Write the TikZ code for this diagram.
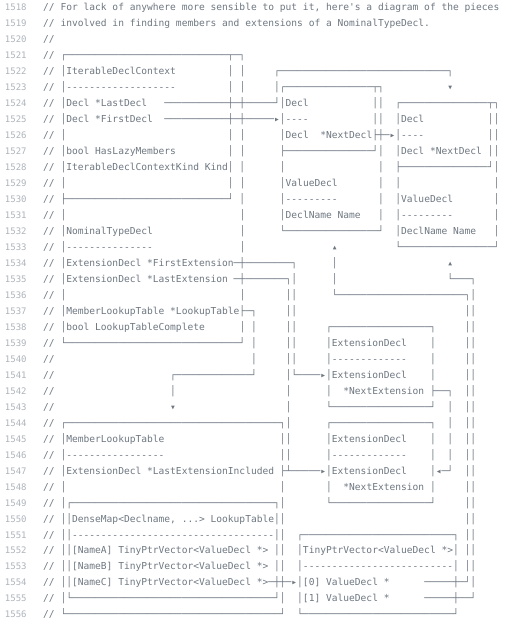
\documentclass[tikz,border=0pt]{standalone}
\usepackage{fontspec}
\usepackage{tikz}
\usetikzlibrary{positioning}
\newfontfamily\codefont{DejaVu Sans Mono}[Ligatures=TeXOff]
\definecolor{codegray}{HTML}{6E7781}
\definecolor{linegray}{HTML}{AEB4BB}
\newcommand\gap[1]{\hspace*{#1\fontcharwd\font`0}}
\newcommand\rep[2]{\foreach\k in {1,...,#1}{#2}}

\begin{document}
\begin{tikzpicture}
        [
            x=5.775pt, y=-15.97pt,
            src/.style={anchor=base west, inner sep=0pt, text=codegray,
                        font=\codefont\fontsize{9.59pt}{16pt}\selectfont},
            lno/.style={anchor=base east, inner sep=0pt, text=linegray,
                        font=\codefont\fontsize{9pt}{16pt}\selectfont}
        ]
        \useasboundingbox (-43pt,11pt) rectangle (478pt,-615pt);
        \foreach \n/\code in {
            1518/{// For lack of anywhere more sensible to put it, here's a diagram of the pieces},
            1519/{// involved in finding members and extensions of a NominalTypeDecl.},
            1520/{//},
            1521/{// ┌\rep{28}{─}┬─┐},
            1522/{// │IterableDeclContext\gap{9}│ │\gap{5}┌\rep{29}{─}┐},
            1523/{// │\rep{19}{-}\gap{9}│ │\gap{5}│┌\rep{15}{─}┬┐\gap{11}▾},
            1524/{// │Decl *LastDecl\gap{3}\rep{11}{─}┼─┼\rep{5}{─}┘│Decl\gap{11}││\gap{2}┌\rep{15}{─}┬┐},
            1525/{// │Decl *FirstDecl\gap{2}\rep{11}{─}┼─┼\rep{5}{─}▸│----\gap{11}││\gap{2}│Decl\gap{11}││},
            1526/{// │\gap{28}│ │\gap{6}│Decl\gap{2}*NextDecl├┼─▸│----\gap{11}││},
            1527/{// │bool HasLazyMembers\gap{9}│ │\gap{6}├\rep{15}{─}┘│\gap{2}│Decl *NextDecl ││},
            1528/{// │IterableDeclContextKind Kind│ │\gap{6}│\gap{16}│\gap{2}├\rep{15}{─}┘│},
            1529/{// │\gap{28}│ │\gap{6}│ValueDecl\gap{7}│\gap{2}│\gap{16}│},
            1530/{// ├\rep{28}{─}┘ │\gap{6}│\rep{9}{-}\gap{7}│\gap{2}│ValueDecl\gap{7}│},
            1531/{// │\gap{30}│\gap{6}│DeclName Name\gap{3}│\gap{2}│\rep{9}{-}\gap{7}│},
            1532/{// │NominalTypeDecl\gap{15}│\gap{6}└\rep{16}{─}┘\gap{2}│DeclName Name\gap{3}│},
            1533/{// │\rep{15}{-}\gap{15}│\gap{15}▴\gap{10}└\rep{16}{─}┘},
            1534/{// │ExtensionDecl *FirstExtension─┼\rep{8}{─}┐\gap{6}│\gap{19}▴},
            1535/{// │ExtensionDecl *LastExtension ─┼\rep{7}{─}┐│\gap{6}│\gap{19}└\rep{3}{─}┐},
            1536/{// │\gap{30}│\gap{7}││\gap{6}└\rep{22}{─}┐│},
            1537/{// │MemberLookupTable *LookupTable├─┐\gap{5}││\gap{29}││},
            1538/{// │bool LookupTableComplete\gap{6}│ │\gap{5}││\gap{5}┌\rep{17}{─}┐\gap{5}││},
            1539/{// └\rep{30}{─}┘ │\gap{5}││\gap{5}│ExtensionDecl\gap{4}│\gap{5}││},
            1540/{//\gap{34}│\gap{5}││\gap{5}│\rep{13}{-}\gap{4}│\gap{5}││},
            1541/{//\gap{20}┌\rep{13}{─}┘\gap{5}│└\rep{4}{─}▸│ExtensionDecl\gap{4}│\gap{5}││},
            1542/{//\gap{20}│\gap{19}│\gap{6}│\gap{2}*NextExtension ├──┐\gap{2}││},
            1543/{//\gap{20}▾\gap{19}│\gap{6}└\rep{17}{─}┘\gap{2}│\gap{2}││},
            1544/{// ┌\rep{37}{─}┐│\gap{6}┌\rep{17}{─}┐\gap{2}│\gap{2}││},
            1545/{// │MemberLookupTable\gap{20}││\gap{6}│ExtensionDecl\gap{4}│\gap{2}│\gap{2}││},
            1546/{// │\rep{17}{-}\gap{20}││\gap{6}│\rep{13}{-}\gap{4}│\gap{2}│\gap{2}││},
            1547/{// │ExtensionDecl *LastExtensionIncluded ├┴\rep{5}{─}▸│ExtensionDecl\gap{4}│◂─┘\gap{2}││},
            1548/{// │\gap{37}│\gap{7}│\gap{2}*NextExtension │\gap{5}││},
            1549/{// │┌\rep{35}{─}┐│\gap{7}└\rep{17}{─}┘\gap{5}││},
            1550/{// ││DenseMap<Declname, ...> LookupTable││\gap{31}││},
            1551/{// ││\rep{35}{-}││\gap{2}┌\rep{26}{─}┐ ││},
            1552/{// ││[NameA] TinyPtrVector<ValueDecl *> ││\gap{2}│TinyPtrVector<ValueDecl *>│ ││},
            1553/{// ││[NameB] TinyPtrVector<ValueDecl *> ││\gap{2}│\rep{26}{-}│ ││},
            1554/{// ││[NameC] TinyPtrVector<ValueDecl *>─┼┼─▸│[0] ValueDecl *\gap{6}\rep{5}{─}┼─┘│},
            1555/{// │└\rep{35}{─}┘│\gap{2}│[1] ValueDecl *\gap{6}\rep{5}{─}┼──┘},
            1556/{// └\rep{37}{─}┘\gap{2}└\rep{26}{─}┘}
        }
        {
            \node (c\n) [src] at (0,\n-1518) {\code};
            \node (n\n) [lno] at (-2.8,\n-1518) {\n};
        }
\end{tikzpicture}
\end{document}
